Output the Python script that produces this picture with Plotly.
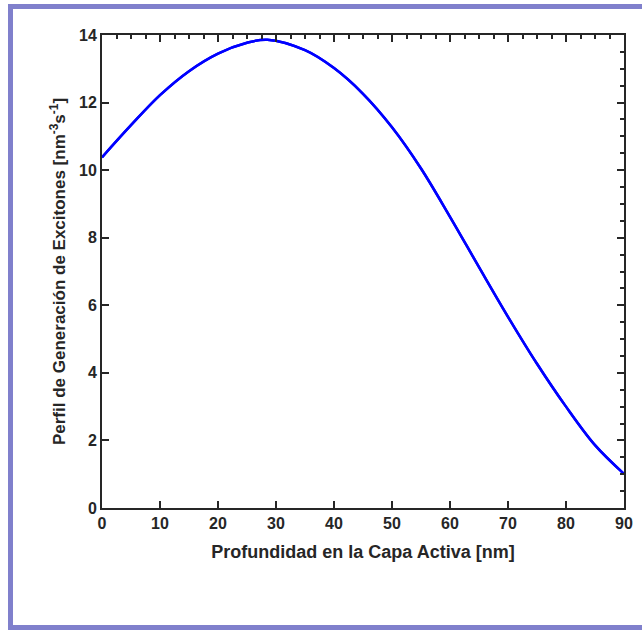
import plotly.graph_objects as go

depth_nm = [0, 5, 10, 15, 20, 25, 28.5, 35, 40, 45, 50, 55, 60, 65, 70, 75, 80, 85, 90]
generation = [10.38, 11.33, 12.22, 12.93, 13.45, 13.77, 13.86, 13.55, 13.02, 12.26, 11.27,
              10.05, 8.62, 7.13, 5.66, 4.27, 3.0, 1.86, 1.01]
x_ticks = [0, 10, 20, 30, 40, 50, 60, 70, 80, 90]
y_ticks = [0, 2, 4, 6, 8, 10, 12, 14]

W, H = 642, 630
L, R, T, B = 102, 18, 35, 122
pw, ph = W - L - R, H - T - B

def px_x(x):
    return (x - L) / pw

def px_y(y):
    return (H - B - y) / ph

ink = "#262626"
line_style = dict(color="#0000FF", width=2.5, shape="spline", smoothing=1.0)

fig = go.Figure()
fig.add_trace(go.Scatter(x=depth_nm, y=generation, mode="lines", line=line_style,
                         showlegend=False, hoverinfo="skip"))
fig.add_trace(go.Scatter(x=depth_nm, y=generation, mode="lines", line=line_style,
                         xaxis="x2", yaxis="y2", showlegend=False, hoverinfo="skip"))

tick_font = dict(family="Liberation Sans, Arial", size=16, color=ink)

fig.update_layout(
    template="none", width=W, height=H,
    margin=dict(l=L, r=R, t=T, b=B),
    paper_bgcolor="white", plot_bgcolor="white",
    xaxis=dict(range=[0, 90], tickmode="array", tickvals=x_ticks,
               ticktext=[f"<b>{v}</b>" for v in x_ticks],
               showline=True, linecolor=ink, linewidth=2, mirror=True,
               ticks="inside", ticklen=7, tickwidth=2, tickcolor=ink,
               showgrid=False, zeroline=False, tickfont=tick_font,
               title=dict(text="<b>Profundidad en la Capa Activa [nm]</b>", standoff=14,
                          font=dict(family="Liberation Sans, Arial", size=18, color=ink))),
    yaxis=dict(range=[0, 14], tickmode="array", tickvals=y_ticks,
               ticktext=[f"<b>{v}</b>" for v in y_ticks],
               showline=True, linecolor=ink, linewidth=2, mirror=True,
               ticks="inside", ticklen=7, tickwidth=2, tickcolor=ink,
               showgrid=False, zeroline=False, tickfont=tick_font,
               title=dict(text="<b>Perfil de Generación de Excitones [nm<sup>-3</sup>s<sup>-1</sup>]</b>",
                          standoff=9, font=dict(family="Liberation Sans, Arial", size=17, color=ink))),
    xaxis2=dict(range=[0, 90], overlaying="x", side="top", anchor="y2",
                tickmode="array", tickvals=x_ticks, showticklabels=False,
                ticks="inside", ticklen=7, tickwidth=2, tickcolor=ink,
                minor=dict(dtick=2.5, tick0=0, ticks="inside", ticklen=4, tickwidth=2, tickcolor=ink),
                showline=False, showgrid=False, zeroline=False),
    yaxis2=dict(range=[0, 14], overlaying="y", side="right", anchor="x2",
                tickmode="array", tickvals=y_ticks, showticklabels=False,
                ticks="inside", ticklen=7, tickwidth=2, tickcolor=ink,
                minor=dict(dtick=0.5, tick0=0, ticks="inside", ticklen=4, tickwidth=2, tickcolor=ink),
                showline=False, showgrid=False, zeroline=False),
)

fig.add_annotation(xref="paper", yref="paper", x=px_x(8), y=px_y(4),
                   xanchor="left", yanchor="top", text=" ", showarrow=False,
                   width=642, height=616, borderwidth=5, borderpad=0,
                   bordercolor="#8080CC", bgcolor="rgba(0,0,0,0)")

fig.write_html("out.html")
